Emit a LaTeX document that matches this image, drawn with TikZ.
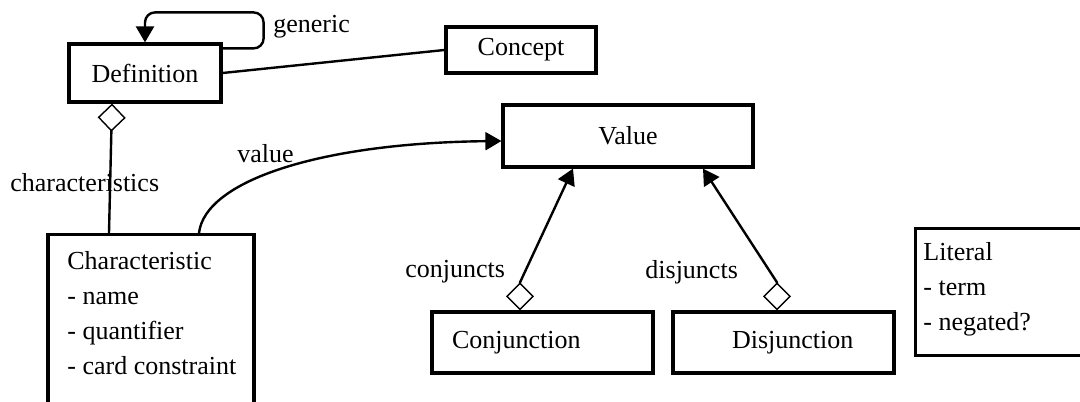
\documentclass[tikz,border=0pt]{standalone}
\usepackage{fontspec}
\setmainfont{Liberation Serif}
\usetikzlibrary{arrows.meta,positioning}

\begin{document}
\begin{tikzpicture}[x=0.5pt, y=-0.5pt,
  every node/.style = {font=\fontsize{13}{17.5}\selectfont},
  cls/.style = {draw, line width=1.6pt, inner sep=0pt},
  lbl/.style = {inner sep=0pt, anchor=base west},
  link/.style = {draw, line width=1.2pt},
  nav/.style = {link, -{Triangle[length=8pt, width=9pt]}},
  part/.style = {link, {Diamond[open, length=14pt, width=14pt, line width=0.7pt]}-{Triangle[length=8pt, width=9pt]}}
  ]
  \useasboundingbox (0,0) rectangle (1080,401);
  \clip (0,0) rectangle (1080,401);
  % classes
  \node[cls, minimum width=76pt, minimum height=29pt] (def) at (145,73) {Definition};
  \node[cls, minimum width=75pt, minimum height=23pt] (con) at (521,50) {Concept};
  \node[cls, minimum width=125pt, minimum height=31pt] (val) at (628,136) {Value};
  \node[cls, minimum width=103pt, minimum height=100pt, anchor=north] (chr) at (151,233) {};
  \node[lbl, align=left] (chrtxt) at (67,374) {Characteristic\\- name\\- quantifier\\- card constraint};
  \node[cls, minimum width=110.5pt, minimum height=30.5pt, text width=110.5pt, align=left] (conj) at (542.5,342.5) {\hspace*{10pt}Conjunction};
  \node[cls, minimum width=110.5pt, minimum height=30.5pt, text width=110.5pt, align=left] (disj) at (783.5,342.5) {\hspace*{29.5pt}Disjunction};
  \node[cls, minimum width=100pt, minimum height=63.5pt, anchor=north west] (lit) at (914,227) {};
  \node[lbl, align=left] (littxt) at (923,330) {Literal\\- term\\- negated?};
  % role names
  \node[lbl] (gen) at (273,33) {generic};
  \node[lbl] (vallbl) at (237,162) {value};
  \node[lbl] (chrs) at (10,191) {characteristics};
  \node[lbl] (conjs) at (405,277) {conjuncts};
  \node[lbl] (disjs) at (645,278) {disjuncts};
  % associations
  \draw[nav, rounded corners=5pt] ([yshift=-3pt]def.north east) -- ++(41,0) |- ([yshift=15pt]def.north) -- (def.north);
  \draw[link] (def.east) -- (con.west);
  \draw[link, {Diamond[open, length=14pt, width=14pt, line width=0.7pt]}-] ([xshift=-16.5pt]def.south) -- ([xshift=-21pt]chr.north);
  \draw[nav] ([xshift=24pt]chr.north) .. controls +(3pt,26pt) and +(-91pt,-1pt) .. ([yshift=-2.5pt]val.west);
  \draw[part] ([xshift=-11.25pt]conj.north) -- ++(0,-28) -- ([xshift=-27.5pt]val.south);
  \draw[part] ([xshift=-3.25pt]disj.north) -- ++(0,-28) -- ([xshift=37.5pt]val.south);
\end{tikzpicture}
\end{document}
